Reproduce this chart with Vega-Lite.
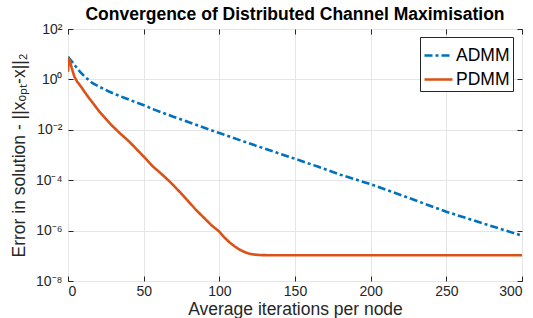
{
  "$schema": "https://vega.github.io/schema/vega-lite/v6.json",
  "autosize": {"type": "none"},
  "width": 454,
  "height": 252,
  "padding": {"left": 68, "top": 29, "right": 11, "bottom": 37},
  "background": "white",
  "config": {
    "font": "Liberation Sans",
    "view": {"stroke": "#262626", "strokeWidth": 1},
    "axis": {"labelFont": "Liberation Sans", "titleFont": "Liberation Sans", "labelColor": "#262626", "titleColor": "#262626", "domainColor": "#262626", "tickColor": "#262626", "gridColor": "#e5e5e5", "gridWidth": 1}
  },
  "title": {"text": "Convergence of Distributed Channel Maximisation", "fontSize": 17.5, "fontWeight": "bold", "font": "Liberation Sans", "color": "#000000", "offset": -1},
  "data": {"values": [
    {"it": 0, "err": 7.943, "alg": "ADMM"},
    {"it": 2, "err": 5.623, "alg": "ADMM"},
    {"it": 5, "err": 3.311, "alg": "ADMM"},
    {"it": 8, "err": 1.995, "alg": "ADMM"},
    {"it": 11, "err": 1.288, "alg": "ADMM"},
    {"it": 16, "err": 0.7244, "alg": "ADMM"},
    {"it": 21, "err": 0.5012, "alg": "ADMM"},
    {"it": 27, "err": 0.3311, "alg": "ADMM"},
    {"it": 33, "err": 0.2344, "alg": "ADMM"},
    {"it": 38, "err": 0.1778, "alg": "ADMM"},
    {"it": 45, "err": 0.1230, "alg": "ADMM"},
    {"it": 52, "err": 0.08511, "alg": "ADMM"},
    {"it": 57, "err": 0.06310, "alg": "ADMM"},
    {"it": 70, "err": 0.03236, "alg": "ADMM"},
    {"it": 85, "err": 0.01549, "alg": "ADMM"},
    {"it": 100, "err": 0.007413, "alg": "ADMM"},
    {"it": 113, "err": 0.003981, "alg": "ADMM"},
    {"it": 130, "err": 0.001778, "alg": "ADMM"},
    {"it": 150, "err": 0.0007079, "alg": "ADMM"},
    {"it": 165, "err": 0.0003467, "alg": "ADMM"},
    {"it": 180, "err": 0.0001660, "alg": "ADMM"},
    {"it": 200, "err": 6.918e-5, "alg": "ADMM"},
    {"it": 225, "err": 1.995e-5, "alg": "ADMM"},
    {"it": 250, "err": 5.623e-6, "alg": "ADMM"},
    {"it": 275, "err": 1.862e-6, "alg": "ADMM"},
    {"it": 300, "err": 6.310e-7, "alg": "ADMM"},
    {"it": 0, "err": 1.995, "alg": "PDMM"},
    {"it": 0.5, "err": 6.457, "alg": "PDMM"},
    {"it": 1, "err": 6.026, "alg": "PDMM"},
    {"it": 2.5, "err": 2.818, "alg": "PDMM"},
    {"it": 4.2, "err": 1.288, "alg": "PDMM"},
    {"it": 6, "err": 0.8318, "alg": "PDMM"},
    {"it": 8.6, "err": 0.5129, "alg": "PDMM"},
    {"it": 11, "err": 0.3162, "alg": "PDMM"},
    {"it": 14, "err": 0.1778, "alg": "PDMM"},
    {"it": 17, "err": 0.1047, "alg": "PDMM"},
    {"it": 20.7, "err": 0.05248, "alg": "PDMM"},
    {"it": 24, "err": 0.03162, "alg": "PDMM"},
    {"it": 28.5, "err": 0.01585, "alg": "PDMM"},
    {"it": 34, "err": 0.007586, "alg": "PDMM"},
    {"it": 40.5, "err": 0.003388, "alg": "PDMM"},
    {"it": 45, "err": 0.001778, "alg": "PDMM"},
    {"it": 50, "err": 0.0008710, "alg": "PDMM"},
    {"it": 56, "err": 0.0003548, "alg": "PDMM"},
    {"it": 62.5, "err": 0.0001622, "alg": "PDMM"},
    {"it": 68, "err": 7.943e-5, "alg": "PDMM"},
    {"it": 73.6, "err": 3.548e-5, "alg": "PDMM"},
    {"it": 79, "err": 1.585e-5, "alg": "PDMM"},
    {"it": 84.6, "err": 6.607e-6, "alg": "PDMM"},
    {"it": 90, "err": 3.162e-6, "alg": "PDMM"},
    {"it": 95, "err": 1.585e-6, "alg": "PDMM"},
    {"it": 100, "err": 9.120e-7, "alg": "PDMM"},
    {"it": 103, "err": 5.623e-7, "alg": "PDMM"},
    {"it": 106.6, "err": 3.467e-7, "alg": "PDMM"},
    {"it": 110, "err": 2.399e-7, "alg": "PDMM"},
    {"it": 113.2, "err": 1.778e-7, "alg": "PDMM"},
    {"it": 117, "err": 1.380e-7, "alg": "PDMM"},
    {"it": 120, "err": 1.202e-7, "alg": "PDMM"},
    {"it": 123, "err": 1.122e-7, "alg": "PDMM"},
    {"it": 126.4, "err": 1.072e-7, "alg": "PDMM"},
    {"it": 135, "err": 1.047e-7, "alg": "PDMM"},
    {"it": 300, "err": 1.047e-7, "alg": "PDMM"}
  ]},
  "layer": [
    {
      "mark": {"type": "line", "strokeWidth": 2.6, "clip": true},
      "encoding": {
        "x": {"field": "it", "type": "quantitative", "scale": {"domain": [0, 300], "nice": false, "zero": false},
          "axis": {"orient": "bottom", "values": [0, 50, 100, 150, 200, 250, 300], "title": "Average iterations per node", "titleFontSize": 17.5, "titleFontWeight": "normal", "titlePadding": 2, "labelFontSize": 14, "labelPadding": 8, "tickSize": -5, "grid": true, "domain": false}},
        "y": {"field": "err", "type": "quantitative", "scale": {"type": "log", "domain": [1e-8, 100], "nice": false},
          "axis": {"orient": "left", "values": [1e-8, 1e-6, 1e-4, 1e-2, 1, 100], "labelExpr": "datum.value == 100 ? '10²' : datum.value == 1 ? '10⁰' : datum.value < 1.1e-8 ? '10⁻⁸' : datum.value < 1.1e-6 ? '10⁻⁶' : datum.value < 1.1e-4 ? '10⁻⁴' : '10⁻²'", "title": "Error in solution - ||xₒₚₜ-x||₂", "titleFontSize": 17.5, "titleFontWeight": "normal", "titlePadding": 7, "labelFontSize": 14, "labelPadding": 11, "tickSize": -5, "grid": true, "domain": false}},
        "color": {"field": "alg", "type": "nominal", "scale": {"domain": ["ADMM", "PDMM"], "range": ["#0072BD", "#D95319"]},
          "legend": {"title": null, "orient": "none", "legendX": 352, "legendY": 8, "symbolType": "stroke", "symbolSize": 784, "symbolStrokeWidth": 2.6, "labelFontSize": 17.5, "labelFont": "Liberation Sans", "labelColor": "#000000", "strokeColor": "#262626", "fillColor": "white", "padding": 3, "rowPadding": 0, "labelOffset": 2}},
        "strokeDash": {"field": "alg", "type": "nominal", "scale": {"domain": ["ADMM", "PDMM"], "range": [[8, 3, 3, 3], [1, 0]]}}
      }
    },
    {
      "mark": {"type": "point", "opacity": 0},
      "encoding": {
        "x": {"field": "it", "type": "quantitative", "axis": {"orient": "top", "values": [0, 50, 100, 150, 200, 250, 300], "labels": false, "title": null, "tickSize": -5, "grid": false, "domain": false}},
        "y": {"field": "err", "type": "quantitative", "scale": {"type": "log"}, "axis": {"orient": "right", "values": [1e-8, 1e-6, 1e-4, 1e-2, 1, 100], "labels": false, "title": null, "tickSize": -5, "grid": false, "domain": false}}
      }
    }
  ],
  "resolve": {"axis": {"x": "independent", "y": "independent"}}
}
